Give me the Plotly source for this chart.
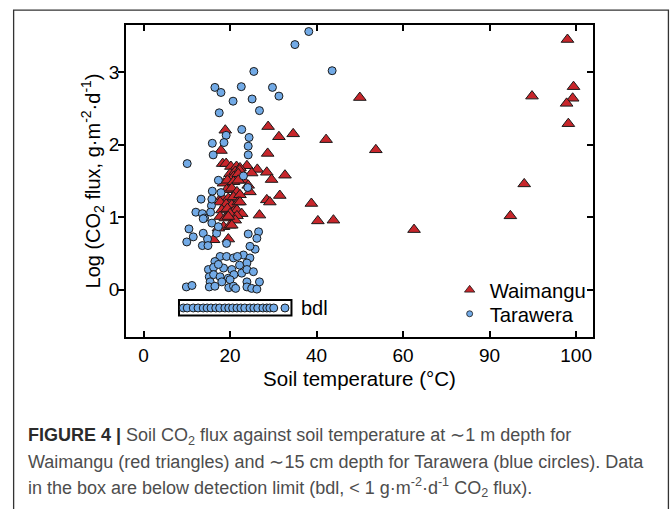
import plotly.graph_objects as go

# ---------------- data ----------------
# Waimangu (red triangles): soil temperature (°C) at ~1 m, log CO2 flux
waimangu_temp = [
    99.0, 99.7, 99.6, 98.9, 99.1, 94.9, 94.0, 92.4, 63.8, 50.0, 53.7, 42.2, 38.8, 40.3, 43.9,
    31.3, 34.6, 28.8, 28.7, 26.3, 28.5, 29.6, 32.7, 28.5, 29.2, 31.5, 26.8, 23.9, 25.0,
    18.9, 17.9, 18.3, 19.1, 20.2, 21.5, 22.3, 20.0, 21.2, 22.2, 20.8, 21.9, 23.1, 24.2, 24.6,
    18.5, 19.4, 20.8, 21.9, 19.2, 20.4, 21.6, 18.1, 19.6, 20.8, 22.3, 17.7, 19.1, 20.4, 21.9,
    22.3, 18.1, 19.4, 20.8, 21.6, 22.7, 17.7, 18.9, 20.0, 21.6, 21.2, 19.6, 18.5, 20.0, 20.4,
    16.2, 19.6, 17.3,
]
waimangu_flux = [
    3.45, 2.80, 2.64, 2.57, 2.29, 2.67, 1.46, 1.02, 0.83, 2.65, 1.93, 2.07, 1.19, 0.95, 0.96,
    2.11, 2.15, 2.25, 1.88, 1.66, 1.62, 1.52, 1.58, 1.24, 1.21, 1.30, 1.03, 1.71, 1.61,
    2.20, 1.92, 1.74, 1.74, 1.70, 1.70, 1.68, 1.60, 1.63, 1.65, 1.56, 1.60, 1.51, 1.44, 1.35,
    1.47, 1.51, 1.49, 1.51, 1.38, 1.40, 1.35, 1.28, 1.26, 1.28, 1.31, 1.21, 1.18, 1.17, 1.21,
    1.21, 1.10, 1.12, 1.08, 1.10, 1.05, 1.01, 0.99, 1.05, 1.02, 0.96, 1.01, 0.87, 0.89, 0.89,
    0.69, 0.70, 0.85,
]

# Tarawera (blue circles): soil temperature (°C) at ~15 cm, log CO2 flux
tarawera_temp = [
    38.2, 35.0, 25.5, 43.6, 16.5, 17.9, 22.6, 29.8, 31.3, 20.7, 25.1, 26.8, 17.5, 22.7, 19.1,
    24.4, 18.6, 15.9, 24.2, 16.1, 24.2, 10.1, 23.1, 24.1, 17.3, 15.9, 17.9, 13.3, 15.7, 12.1,
    13.6, 15.5, 15.8, 14.1, 13.8, 15.8, 10.5, 11.5, 10.0, 13.8, 14.8, 13.6, 14.9, 16.9, 17.3,
    19.2, 24.2, 26.6, 26.2, 25.8, 24.6, 23.1, 24.6, 23.9, 17.7, 19.2, 20.8, 16.5, 15.0, 16.2,
    18.5, 20.4, 22.2, 22.7, 23.9, 25.4, 15.2, 16.2, 17.7, 19.6, 20.9, 15.4, 18.1, 20.0, 23.9,
    26.8, 15.2, 16.5, 19.7, 20.8, 21.3, 23.9, 25.0, 26.2, 9.9, 11.2, 17.3, 21.7,
]
tarawera_flux = [
    3.56, 3.38, 3.01, 3.02, 2.79, 2.72, 2.80, 2.79, 2.67, 2.60, 2.63, 2.47, 2.44, 2.21, 2.13,
    2.10, 2.03, 2.02, 1.98, 1.86, 1.86, 1.74, 1.57, 1.41, 1.51, 1.36, 1.34, 1.25, 1.16, 1.07,
    1.05, 1.07, 1.25, 0.99, 0.98, 0.92, 0.84, 0.73, 0.66, 0.78, 0.70, 0.61, 0.61, 0.78, 0.87,
    0.64, 0.77, 0.80, 0.71, 0.56, 0.60, 0.48, 0.44, 0.37, 0.46, 0.46, 0.44, 0.39, 0.28, 0.31,
    0.30, 0.28, 0.34, 0.23, 0.28, 0.25, 0.18, 0.21, 0.18, 0.16, 0.21, 0.11, 0.11, 0.14, 0.11,
    0.11, 0.04, 0.05, 0.03, 0.05, 0.02, 0.04, 0.02, 0.01, 0.04, 0.06, 0.35, 0.46,
]

# Tarawera below detection limit (plotted in the bdl box)
bdl_temp = [9.2, 10.1, 11.5, 12.6, 13.8, 14.7, 15.6, 16.7, 17.6, 18.8, 19.7, 20.6,
            21.6, 22.5, 23.4, 24.6, 25.5, 26.4, 27.6, 28.5, 29.2, 30.1, 32.7]
bdl_level = -0.25

x_tick_values = [0, 20, 40, 60, 90, 100]
y_tick_values = [0, 1, 2, 3]


# broken (piecewise-linear) temperature axis
def tx(t):
    if t <= 60:
        return t
    if t <= 90:
        return 60 + (t - 60) * 2.0 / 3.0
    return 80 + (t - 90) * 2.0


# ---------------- layout geometry ----------------
W, H = 672, 509
L, R, T, B = 126, 593.5, 24.5, 337.5


def px(xp):
    return (xp - L) / (R - L)


def py(yp):
    return (B - yp) / (B - T)


RED = "#c8262b"
BLUE = "#72aae6"
EDGE = "#1a1a1a"
FONT = "Liberation Sans, Arial, Helvetica, sans-serif"

fig = go.Figure()

fig.add_trace(go.Scatter(
    x=[tx(t) for t in waimangu_temp], y=waimangu_flux, mode="markers",
    customdata=waimangu_temp,
    hovertemplate="%{customdata} °C, %{y}<extra>Waimangu</extra>",
    marker=dict(symbol="triangle-up", size=11, color=RED, line=dict(color=EDGE, width=1)),
    showlegend=False))

fig.add_trace(go.Scatter(
    x=[tx(t) for t in tarawera_temp], y=tarawera_flux, mode="markers",
    customdata=tarawera_temp,
    hovertemplate="%{customdata} °C, %{y}<extra>Tarawera</extra>",
    marker=dict(symbol="circle", size=8, color=BLUE, line=dict(color=EDGE, width=1)),
    showlegend=False))

fig.add_trace(go.Scatter(
    x=[tx(t) for t in bdl_temp], y=[bdl_level] * len(bdl_temp), mode="markers",
    customdata=bdl_temp,
    hovertemplate="%{customdata} °C, bdl<extra>Tarawera</extra>",
    marker=dict(symbol="circle", size=8, color=BLUE, line=dict(color=EDGE, width=1)),
    showlegend=False))

# legend entries (small symbols, as in the reference), one legend box each
fig.add_trace(go.Scatter(x=[None], y=[None], mode="markers", name="Waimangu", legend="legend",
                         marker=dict(symbol="triangle-up", size=9, color=RED,
                                     line=dict(color=EDGE, width=0.8))))
fig.add_trace(go.Scatter(x=[None], y=[None], mode="markers", name="Tarawera", legend="legend2",
                         marker=dict(symbol="circle", size=6, color=BLUE,
                                     line=dict(color=EDGE, width=0.8))))

# helper trace for the right-hand (inside) ticks
fig.add_trace(go.Scatter(x=[None], y=[None], yaxis="y2", showlegend=False, hoverinfo="skip"))

# bdl box
fig.add_shape(type="rect", xref="x", yref="y", x0=tx(8.2), x1=tx(34.2), y0=-0.355, y1=-0.14,
              line=dict(color="black", width=2), fillcolor="rgba(0,0,0,0)", layer="below")
fig.add_annotation(x=tx(36.0), y=bdl_level, xref="x", yref="y", text="bdl", showarrow=False,
                   xanchor="left", yanchor="middle", font=dict(size=20, color="black", family=FONT))

# outer figure frame
fig.add_shape(type="rect", xref="paper", yref="paper", x0=px(13.5), x1=px(669), y0=py(560), y1=py(9.5),
              line=dict(color="#333333", width=1.3), fillcolor="rgba(0,0,0,0)", layer="above")

# caption
cap_color = "#4d4d4d"
caption_lines = [
    "<span style='color:#2b2b2b'><b>FIGURE 4 |</b></span> Soil CO<sub>2</sub> flux against soil temperature at ∼1 m depth for",
    "Waimangu (red triangles) and ∼15 cm depth for Tarawera (blue circles). Data",
    "in the box are below detection limit (bdl, &lt; 1 g·m<sup>-2</sup>·d<sup>-1</sup> CO<sub>2</sub> flux).",
]
caption_y = [437, 462.5, 488]
for line, yy in zip(caption_lines, caption_y):
    fig.add_annotation(x=px(26), y=py(yy), xref="paper", yref="paper", text=line, showarrow=False,
                       xanchor="left", yanchor="middle", align="left",
                       font=dict(size=18, color=cap_color, family=FONT))

axis_common = dict(showgrid=False, zeroline=False, showline=True, linecolor="black", linewidth=1.5,
                   tickcolor="black", tickwidth=1.5, ticklen=6,
                   tickfont=dict(size=19, color="black", family=FONT))

legend_style = dict(xanchor="left", yanchor="middle", bgcolor="rgba(0,0,0,0)",
                    font=dict(size=20.3, color="black", family=FONT), itemwidth=30)

fig.update_layout(
    width=W, height=H,
    margin=dict(l=L, r=W - R, t=T, b=H - B),
    paper_bgcolor="white", plot_bgcolor="white",
    font=dict(family=FONT, color="black"),
    xaxis=dict(range=[-4.05, 103.9], tickmode="array", tickvals=[tx(v) for v in x_tick_values],
               ticktext=[str(v) for v in x_tick_values], ticks="inside", mirror="ticks",
               title=dict(text="Soil temperature (°C)", font=dict(size=20.5, color="black"), standoff=7),
               **axis_common),
    yaxis=dict(range=[-0.65, 3.65], tickmode="array", tickvals=y_tick_values,
               ticks="outside", mirror=True, ticklabelstandoff=-5,
               title=dict(text="Log (CO<sub>2</sub> flux, g·m<sup>-2</sup>·d<sup>-1</sup>)",
                          font=dict(size=20, color="black"), standoff=3),
               **axis_common),
    yaxis2=dict(overlaying="y", side="right", matches="y", tickmode="array", tickvals=y_tick_values,
                ticks="inside", ticklen=6, tickwidth=1.5, tickcolor="black", showticklabels=False,
                showline=False, showgrid=False, zeroline=False),
    legend=dict(x=px(450), y=py(290.5), **legend_style),
    legend2=dict(x=px(450), y=py(314.5), **legend_style),
    showlegend=True,
)

fig.write_html("out.html")
